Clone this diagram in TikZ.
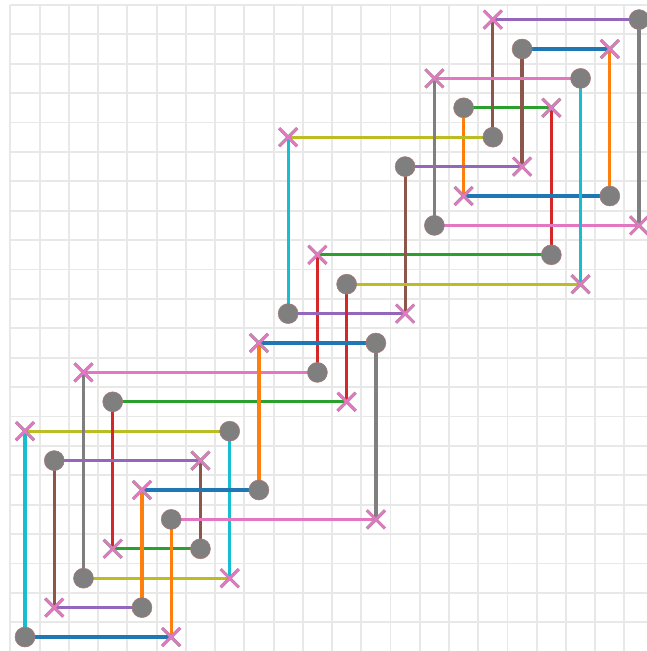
\documentclass[tikz,border=0pt]{standalone}
\usetikzlibrary{shapes.misc}
\definecolor{tabblue}{HTML}{1F77B4}
\definecolor{taborange}{HTML}{FF7F0E}
\definecolor{tabgreen}{HTML}{2CA02C}
\definecolor{tabred}{HTML}{D62728}
\definecolor{tabpurple}{HTML}{9467BD}
\definecolor{tabbrown}{HTML}{8C564B}
\definecolor{tabpink}{HTML}{E377C2}
\definecolor{tabgray}{HTML}{7F7F7F}
\definecolor{tabolive}{HTML}{BCBD22}
\definecolor{tabcyan}{HTML}{17BECF}
\definecolor{gridcol}{HTML}{E8E8E8}
\definecolor{dotedge}{HTML}{A87878}
\definecolor{xedge}{HTML}{9A8A90}
\pgfdeclarelayer{gridlayer}
\pgfdeclarelayer{linelayer}
\pgfsetlayers{gridlayer,linelayer,main}
\begin{document}
\begin{tikzpicture}[x=0.9946cm,y=1cm,
  gridline/.style={draw=gridcol,line width=0.065cm},
  seg/.style={line width=0.11cm},
  dotmark/.style={circle,fill=tabgray,draw=dotedge,line width=0.5pt,minimum size=0.68cm,inner sep=0pt},
  xmark/.style={cross out,draw=xedge,double=tabpink,double distance=0.075cm,line width=0.45pt,minimum size=0.6cm,inner sep=0pt}]
\useasboundingbox (-0.855,-0.476) rectangle (21.24,21.667);
% grid
\begin{pgfonlayer}{gridlayer}
\foreach \k in {0,...,21} {
  \draw[gridline] (\k-0.5,-0.6) -- (\k-0.5,21.5);
  \draw[gridline] (-0.5,\k-0.5) -- (21.4,\k-0.5);
}
\draw[gridline] (-0.5,21.5) -- (21.4,21.5);
\end{pgfonlayer}
% dots
\foreach \a/\b in {0/0,7/7,2/2,10/9,18/13,15/18,20/15,17/20,13/16,9/11,16/17,21/21,14/14,19/19,11/12,3/8,6/3,1/6,4/1,8/5,12/10,5/4}
  \node[dotmark] (d\a-\b) at (\a,\b) {};
% crosses
\foreach \a/\b in {5/0,0/7,7/2,2/9,10/13,18/18,15/15,20/20,17/16,13/11,9/17,16/21,21/14,14/19,19/12,11/8,3/3,6/6,1/1,4/5,8/10,12/4}
  \node[xmark] (x\a-\b) at (\a,\b) {};
% connectors
\begin{pgfonlayer}{linelayer}
\foreach \c/\p/\q in {
  tabblue/d0-0/x5-0, tabcyan/d0-0/x0-7, tabolive/x0-7/d7-7, tabcyan/d7-7/x7-2,
  tabolive/d2-2/x7-2, tabgray/d2-2/x2-9, tabpink/x2-9/d10-9, tabred/d10-9/x10-13,
  tabgreen/x10-13/d18-13, tabred/d18-13/x18-18, tabgreen/d15-18/x18-18, taborange/d15-18/x15-15,
  tabblue/x15-15/d20-15, taborange/d20-15/x20-20, tabblue/d17-20/x20-20, tabbrown/d17-20/x17-16,
  tabpurple/d13-16/x17-16, tabbrown/d13-16/x13-11, tabpurple/d9-11/x13-11, tabcyan/d9-11/x9-17,
  tabolive/x9-17/d16-17, tabbrown/d16-17/x16-21, tabpurple/x16-21/d21-21, tabgray/d21-21/x21-14,
  tabpink/d14-14/x21-14, tabgray/d14-14/x14-19, tabpink/x14-19/d19-19, tabcyan/d19-19/x19-12,
  tabolive/d11-12/x19-12, tabred/d11-12/x11-8, tabgreen/d3-8/x11-8, tabred/d3-8/x3-3,
  tabgreen/x3-3/d6-3, tabbrown/d6-3/x6-6, tabpurple/d1-6/x6-6, tabbrown/d1-6/x1-1,
  tabpurple/x1-1/d4-1, taborange/d4-1/x4-5, tabblue/x4-5/d8-5, taborange/d8-5/x8-10,
  tabblue/x8-10/d12-10, tabgray/d12-10/x12-4, tabpink/d5-4/x12-4, taborange/d5-4/x5-0}
  \draw[seg,draw=\c] (\p.center) -- (\q.center);
\end{pgfonlayer}
\end{tikzpicture}
\end{document}
